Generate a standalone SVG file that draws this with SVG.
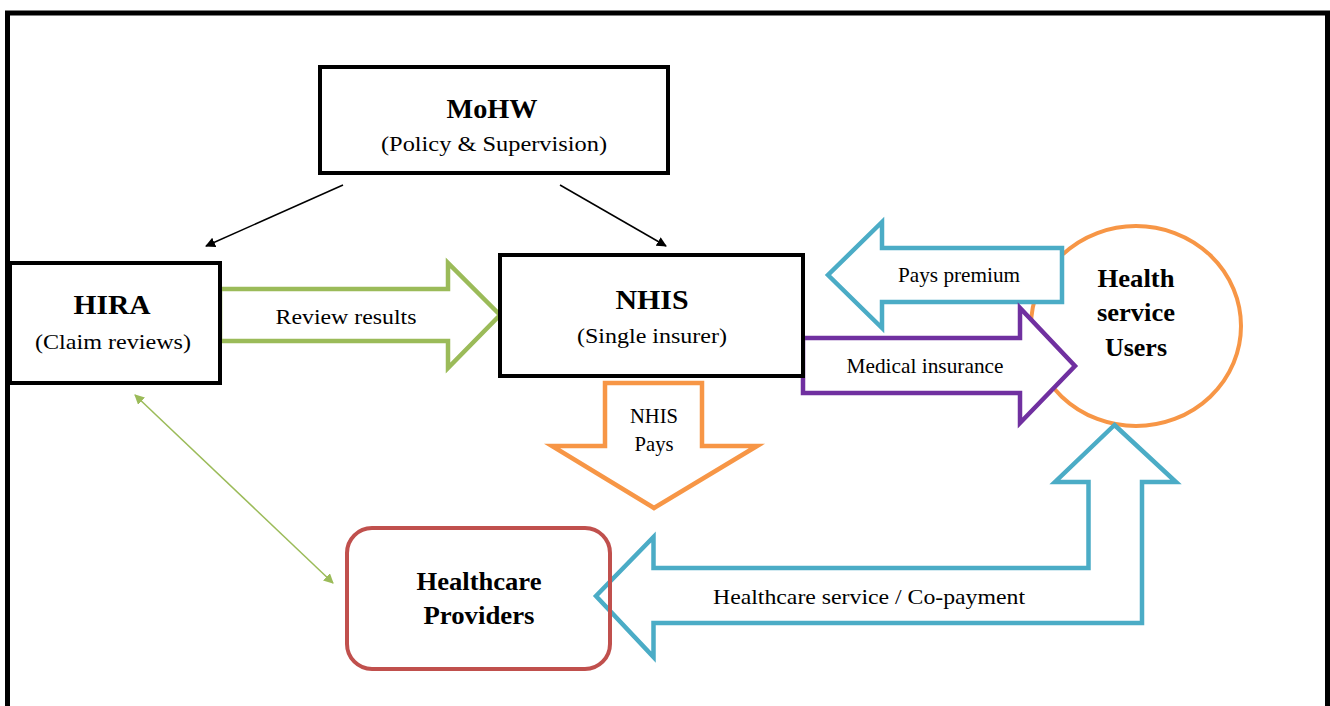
<svg xmlns="http://www.w3.org/2000/svg" width="1330" height="706" viewBox="0 0 1330 706">
<defs>
<style>
text{font-family:"Liberation Serif","Times New Roman",serif;fill:#000;text-anchor:middle}
.b{font-weight:bold}
.box{fill:#fff;stroke:#000;stroke-width:4}
.thin{stroke-width:1.5;fill:none}
</style>
<marker id="ah" viewBox="0 0 10 10" refX="9" refY="5" markerWidth="10" markerHeight="10" markerUnits="userSpaceOnUse" orient="auto-start-reverse"><path d="M0,0L10,5L0,10z" fill="#000"/></marker>
<marker id="ag" viewBox="0 0 10 10" refX="9" refY="5" markerWidth="10" markerHeight="10" markerUnits="userSpaceOnUse" orient="auto-start-reverse"><path d="M0,0L10,5L0,10z" fill="#9BBB59"/></marker>
</defs>
<rect x="0" y="0" width="1330" height="706" fill="#fff"/>
<rect x="7.5" y="13" width="1320" height="720" fill="none" stroke="#000" stroke-width="5"/>

<g id="users">
<ellipse cx="1136" cy="326" rx="105" ry="100" fill="#fff" stroke="#F79646" stroke-width="4"/>
</g>

<g id="connectors">
<line x1="343" y1="185" x2="206" y2="246" stroke="#000" class="thin" marker-end="url(#ah)"/>
<line x1="560" y1="185" x2="666" y2="246" stroke="#000" class="thin" marker-end="url(#ah)"/>
<line x1="135" y1="395" x2="333" y2="583" stroke="#9BBB59" class="thin" marker-start="url(#ag)" marker-end="url(#ag)"/>
<path d="M220,289H448V263L500,315L448,368V341H220Z" fill="#fff" stroke="#9BBB59" stroke-width="4.5"/>
<path d="M1062,248H882V222L828,275L882,328V302H1062Z" fill="#fff" stroke="#4BACC6" stroke-width="4.5"/>
<path d="M803,338H1020V308L1075,366L1020,423V393H803Z" fill="#fff" stroke="#7030A0" stroke-width="4.5"/>
<path d="M605,383H702V446H757L654,508L552,446H605Z" fill="#fff" stroke="#F79646" stroke-width="4.5"/>
<path d="M1114.5,425L1176,482H1142V623H653.5V657L596,596L653.5,537V568H1088.5V482H1055Z" fill="#fff" stroke="#4BACC6" stroke-width="4.5"/>
</g>

<g id="mohw">
<rect class="box" x="320" y="67" width="348" height="106"/>
<text x="492" y="118" font-size="28" class="b" textLength="91" lengthAdjust="spacingAndGlyphs">MoHW</text>
<text x="494" y="151" font-size="22" textLength="226" lengthAdjust="spacingAndGlyphs">(Policy &amp; Supervision)</text>
</g>
<g id="hira">
<rect class="box" x="10" y="263" width="210" height="120"/>
<text x="112" y="314" font-size="28" class="b" textLength="77" lengthAdjust="spacingAndGlyphs">HIRA</text>
<text x="113" y="349" font-size="22" textLength="156" lengthAdjust="spacingAndGlyphs">(Claim reviews)</text>
</g>
<g id="nhis">
<rect class="box" x="500" y="255" width="303" height="121"/>
<text x="652" y="309" font-size="28" class="b" textLength="73" lengthAdjust="spacingAndGlyphs">NHIS</text>
<text x="652" y="343" font-size="22" textLength="150" lengthAdjust="spacingAndGlyphs">(Single insurer)</text>
</g>
<g id="providers">
<rect x="347" y="528" width="263" height="141" rx="25" fill="none" stroke="#C0504D" stroke-width="4"/>
<text x="479" y="590" font-size="25" class="b" textLength="125" lengthAdjust="spacingAndGlyphs">Healthcare</text>
<text x="479" y="624" font-size="25" class="b" textLength="111" lengthAdjust="spacingAndGlyphs">Providers</text>
</g>
<g id="users-label">
<text x="1136" y="287" font-size="25" class="b" textLength="77" lengthAdjust="spacingAndGlyphs">Health</text>
<text x="1136" y="321" font-size="25" class="b" textLength="78" lengthAdjust="spacingAndGlyphs">service</text>
<text x="1136" y="356" font-size="25" class="b" textLength="62" lengthAdjust="spacingAndGlyphs">Users</text>
</g>
<g id="labels">
<text x="346" y="324" font-size="22" textLength="141" lengthAdjust="spacingAndGlyphs">Review results</text>
<text x="959" y="282" font-size="21" textLength="122" lengthAdjust="spacingAndGlyphs">Pays premium</text>
<text x="925" y="373" font-size="21" textLength="157" lengthAdjust="spacingAndGlyphs">Medical  insurance</text>
<text x="654" y="423" font-size="21" textLength="48" lengthAdjust="spacingAndGlyphs">NHIS</text>
<text x="654" y="451" font-size="21" textLength="39" lengthAdjust="spacingAndGlyphs">Pays</text>
<text x="869" y="604" font-size="22" textLength="312" lengthAdjust="spacingAndGlyphs">Healthcare service / Co-payment</text>
</g>
</svg>
